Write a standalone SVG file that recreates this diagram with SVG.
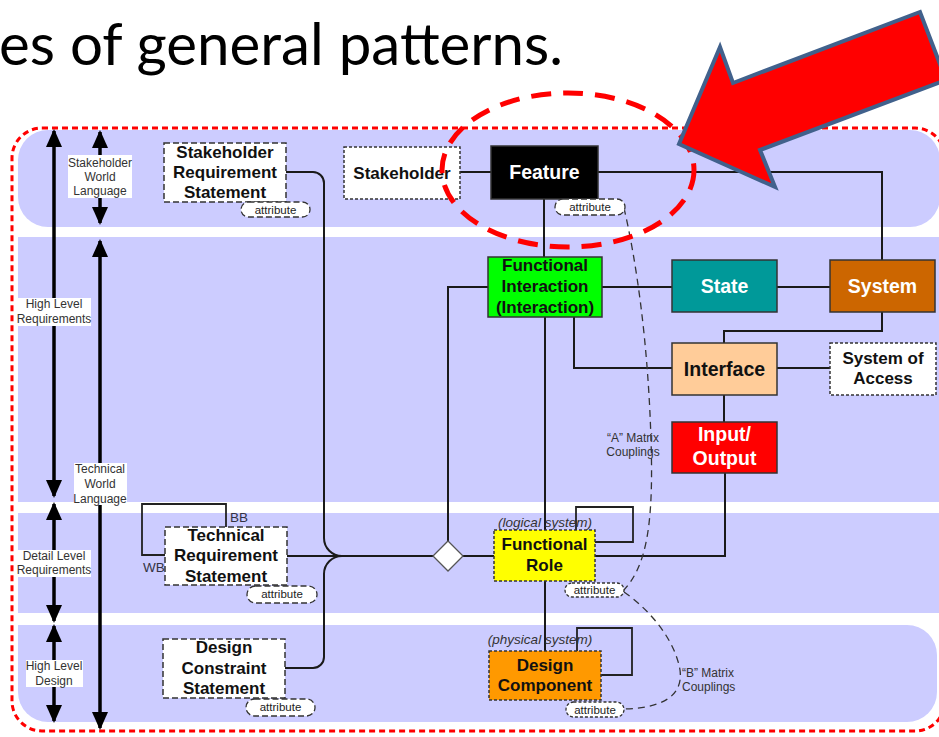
<svg xmlns="http://www.w3.org/2000/svg" width="939" height="737" viewBox="0 0 939 737">
  <style>
    .band { fill: #ccccff; }
    .conn { fill: none; stroke: #1a1a1a; stroke-width: 2; }
    .loop { fill: none; stroke: #222; stroke-width: 1.8; }
    .coup { fill: none; stroke: #333; stroke-width: 1.3; stroke-dasharray: 7 5; }
    .axis { fill: none; stroke: #000; stroke-width: 3.5; marker-start: url(#head); marker-end: url(#head); }
    .lblbg { fill: #fff; }
    .lbl { font-family: "Liberation Sans", Arial, sans-serif; font-size: 12px; fill: #333; text-anchor: middle; }
    .box { stroke: #333; stroke-width: 1.5; }
    .dsh { fill: #fff; stroke-dasharray: 6 3; }
    .dot { stroke-dasharray: 3 2; }
    .nt { font-family: "Liberation Sans", Arial, sans-serif; font-weight: bold; font-size: 17px; fill: #111; text-anchor: middle; }
    .big { font-size: 19.5px; }
    .wt { fill: #fff; }
    .it { font-family: "Liberation Sans", Arial, sans-serif; font-style: italic; font-size: 13.5px; fill: #333; text-anchor: middle; }
    .attr { fill: #fff; stroke: #333; stroke-width: 1.3; stroke-dasharray: 6 3; }
    .attr.sm { stroke-dasharray: 3 2; }
    .at { font-family: "Liberation Sans", Arial, sans-serif; font-size: 11.5px; fill: #222; text-anchor: middle; }
    .side { font-family: "Liberation Sans", Arial, sans-serif; font-size: 13.5px; fill: #334; }
  </style>
  <defs>
    <marker id="head" viewBox="0 0 18 16" refX="16" refY="8" markerWidth="18" markerHeight="16" markerUnits="userSpaceOnUse" orient="auto-start-reverse">
      <path d="M0,0 L18,8 L0,16 z" fill="#000"/>
    </marker>
  </defs>

  <rect width="939" height="737" fill="#fff"/>

  <!-- heading fragment -->
  <text x="-1" y="65" font-family="Lato, 'Open Sans', sans-serif" font-size="58" fill="#000" textLength="564" lengthAdjust="spacingAndGlyphs">es of general patterns.</text>

  <!-- swim-lane bands -->
  <g id="bands">
    <rect class="band" x="18" y="130" width="922" height="97" rx="30"/>
    <rect class="band" x="18" y="237" width="925" height="265"/>
    <rect class="band" x="18" y="513" width="925" height="100"/>
    <path class="band" d="M18,625 H907 A30,30 0 0 1 937,655 V692 A30,30 0 0 1 907,722 H48 A30,30 0 0 1 18,692 Z"/>
  </g>

  <!-- red dotted boundary -->
  <rect x="12" y="128" width="933" height="603" rx="30" fill="none" stroke="#ff0000" stroke-width="3" stroke-dasharray="6 4"/>

  <!-- level axes -->
  <g id="axes">
    <line class="axis" x1="54" y1="131" x2="54" y2="496"/>
    <line class="axis" x1="100" y1="132" x2="100" y2="223"/>
    <line class="axis" x1="100" y1="241" x2="100" y2="728"/>
    <line class="axis" x1="54" y1="504" x2="54" y2="621"/>
    <line class="axis" x1="54" y1="626" x2="54" y2="721"/>
    <rect class="lblbg" x="68" y="155" width="64" height="43"/>
    <text class="lbl" x="100" y="167">Stakeholder</text>
    <text class="lbl" x="100" y="181">World</text>
    <text class="lbl" x="100" y="195">Language</text>
    <rect class="lblbg" x="16" y="298" width="75" height="28"/>
    <text class="lbl" x="54" y="308">High Level</text>
    <text class="lbl" x="54" y="323">Requirements</text>
    <rect class="lblbg" x="74" y="463" width="53" height="42"/>
    <text class="lbl" x="100" y="473">Technical</text>
    <text class="lbl" x="100" y="488">World</text>
    <text class="lbl" x="100" y="503">Language</text>
    <rect class="lblbg" x="16" y="550" width="75" height="27"/>
    <text class="lbl" x="54" y="560">Detail Level</text>
    <text class="lbl" x="54" y="574">Requirements</text>
    <rect class="lblbg" x="26" y="660" width="57" height="27"/>
    <text class="lbl" x="54" y="670">High Level</text>
    <text class="lbl" x="54" y="685">Design</text>
  </g>

  <!-- connectors -->
  <g id="connectors">
    <path class="conn" d="M286,172 H313 A11,11 0 0 1 324,183 V538 A18,18 0 0 0 342,556"/>
    <path class="conn" d="M285,668 H313 A11,11 0 0 0 324,657 V574 A18,18 0 0 1 342,556"/>
    <path class="conn" d="M287,556 H433"/>
    <path class="conn" d="M488,287 H448 V541"/>
    <path class="conn" d="M463,556 H494"/>
    <path class="conn" d="M460,172 H491"/>
    <path class="conn" d="M598,172 H882 V260"/>
    <path class="conn" d="M544,199 V257"/>
    <path class="conn" d="M602,287 H672"/>
    <path class="conn" d="M777,287 H830"/>
    <path class="conn" d="M882,312 V331 H724 V343"/>
    <path class="conn" d="M574,317 V368 H672"/>
    <path class="conn" d="M777,368 H830"/>
    <path class="conn" d="M724,395 V422"/>
    <path class="conn" d="M725,473 V556 H595"/>
    <path class="conn" d="M545,317 V530"/>
    <path class="conn" d="M545,581 V651"/>
    <path class="loop" d="M576,530 V507 H633 V542 H595"/>
    <path class="loop" d="M577,651 V628 H632 V675 H601"/>
    <path class="loop" d="M226,527 V504 H142 V555 H165"/>
    <path class="coup" d="M624,208 C636,260 648,340 651,440 C654,530 645,568 623,591"/>
    <path class="coup" d="M624,592 C650,610 675,640 680,670 C684,700 655,708 625,709"/>
    <polygon points="448,541 463,556 448,571 433,556" fill="#fff" stroke="#555" stroke-width="1.3"/>
    <text class="side" x="230" y="522">BB</text>
    <text class="side" x="143" y="572">WB</text>
    <text class="lbl" x="633" y="442" font-size="11">“A” Matrix</text>
    <text class="lbl" x="633" y="456" font-size="11">Couplings</text>
    <text class="lbl" x="682" y="677" font-size="11" text-anchor="start" style="text-anchor:start">“B” Matrix</text>
    <text class="lbl" x="682" y="691" font-size="11" style="text-anchor:start">Couplings</text>
  </g>

  <!-- nodes -->
  <g id="stakeholder-requirement-statement">
    <rect class="box dsh" x="164" y="143" width="122" height="59"/>
    <text class="nt" x="225" y="158">Stakeholder</text>
    <text class="nt" x="225" y="178">Requirement</text>
    <text class="nt" x="225" y="198">Statement</text>
    <rect class="attr" x="241" y="202" width="69" height="15" rx="7.5"/>
    <text class="at" x="275.5" y="214">attribute</text>
  </g>
  <g id="stakeholder">
    <rect class="box dsh dot" x="344" y="147" width="116" height="52"/>
    <text class="nt" x="402" y="179">Stakeholder</text>
  </g>
  <g id="feature">
    <rect class="box" x="491" y="146" width="107" height="53" fill="#000"/>
    <text class="nt big wt" x="544.5" y="179">Feature</text>
    <rect class="attr" x="555" y="199" width="70" height="16" rx="8"/>
    <text class="at" x="590" y="211">attribute</text>
  </g>
  <g id="functional-interaction">
    <rect class="box" x="488" y="257" width="114" height="60" fill="#00ff00"/>
    <text class="nt" x="545" y="271">Functional</text>
    <text class="nt" x="545" y="292">Interaction</text>
    <text class="nt" x="545" y="313">(Interaction)</text>
  </g>
  <g id="state">
    <rect class="box" x="672" y="260" width="105" height="52" fill="#009999"/>
    <text class="nt big wt" x="724.5" y="293">State</text>
  </g>
  <g id="system">
    <rect class="box" x="830" y="260" width="105" height="52" fill="#cc6600"/>
    <text class="nt big wt" x="882.5" y="293">System</text>
  </g>
  <g id="interface">
    <rect class="box" x="672" y="343" width="105" height="52" fill="#ffcc99"/>
    <text class="nt big" x="724.5" y="376">Interface</text>
  </g>
  <g id="system-of-access">
    <rect class="box dsh dot" x="830" y="343" width="106" height="52"/>
    <text class="nt" x="883" y="364">System of</text>
    <text class="nt" x="883" y="384">Access</text>
  </g>
  <g id="input-output">
    <rect class="box" x="672" y="422" width="105" height="51" fill="#ff0000"/>
    <text class="nt big wt" x="724.5" y="441">Input/</text>
    <text class="nt big wt" x="724.5" y="465">Output</text>
  </g>
  <g id="functional-role">
    <text class="it" x="545" y="527">(logical system)</text>
    <rect class="box dsh dot" x="494" y="530" width="101" height="51" style="fill:#ffff00"/>
    <text class="nt" x="544.5" y="550">Functional</text>
    <text class="nt" x="544.5" y="571">Role</text>
    <rect class="attr sm" x="565" y="583" width="59" height="14" rx="7"/>
    <text class="at" x="594.5" y="594">attribute</text>
  </g>
  <g id="design-component">
    <text class="it" x="540" y="644">(physical system)</text>
    <rect class="box dsh dot" x="489" y="651" width="112" height="49" style="fill:#ff9900"/>
    <text class="nt" x="545" y="671">Design</text>
    <text class="nt" x="545" y="691">Component</text>
    <rect class="attr sm" x="566" y="702" width="58" height="15" rx="7.5"/>
    <text class="at" x="595" y="714">attribute</text>
  </g>
  <g id="technical-requirement-statement">
    <rect class="box dsh" x="165" y="527" width="122" height="58"/>
    <text class="nt" x="226" y="541">Technical</text>
    <text class="nt" x="226" y="561">Requirement</text>
    <text class="nt" x="226" y="582">Statement</text>
    <rect class="attr" x="247" y="586" width="70" height="17" rx="8.5"/>
    <text class="at" x="282" y="598">attribute</text>
  </g>
  <g id="design-constraint-statement">
    <rect class="box dsh" x="163" y="639" width="122" height="59"/>
    <text class="nt" x="224" y="653">Design</text>
    <text class="nt" x="224" y="674">Constraint</text>
    <text class="nt" x="224" y="694">Statement</text>
    <rect class="attr" x="246" y="699" width="69" height="17" rx="8.5"/>
    <text class="at" x="280.5" y="711">attribute</text>
  </g>

  <!-- highlight ellipse and pointer arrow -->
  <ellipse cx="568" cy="170" rx="126" ry="77" fill="none" stroke="#ff0000" stroke-width="5" stroke-dasharray="20 12"/>
  <polygon points="679,144 720,47 733,83 920,12 946,80 760,150 775,187" fill="#ff0000" stroke="#41618c" stroke-width="4" stroke-linejoin="miter"/>
</svg>
